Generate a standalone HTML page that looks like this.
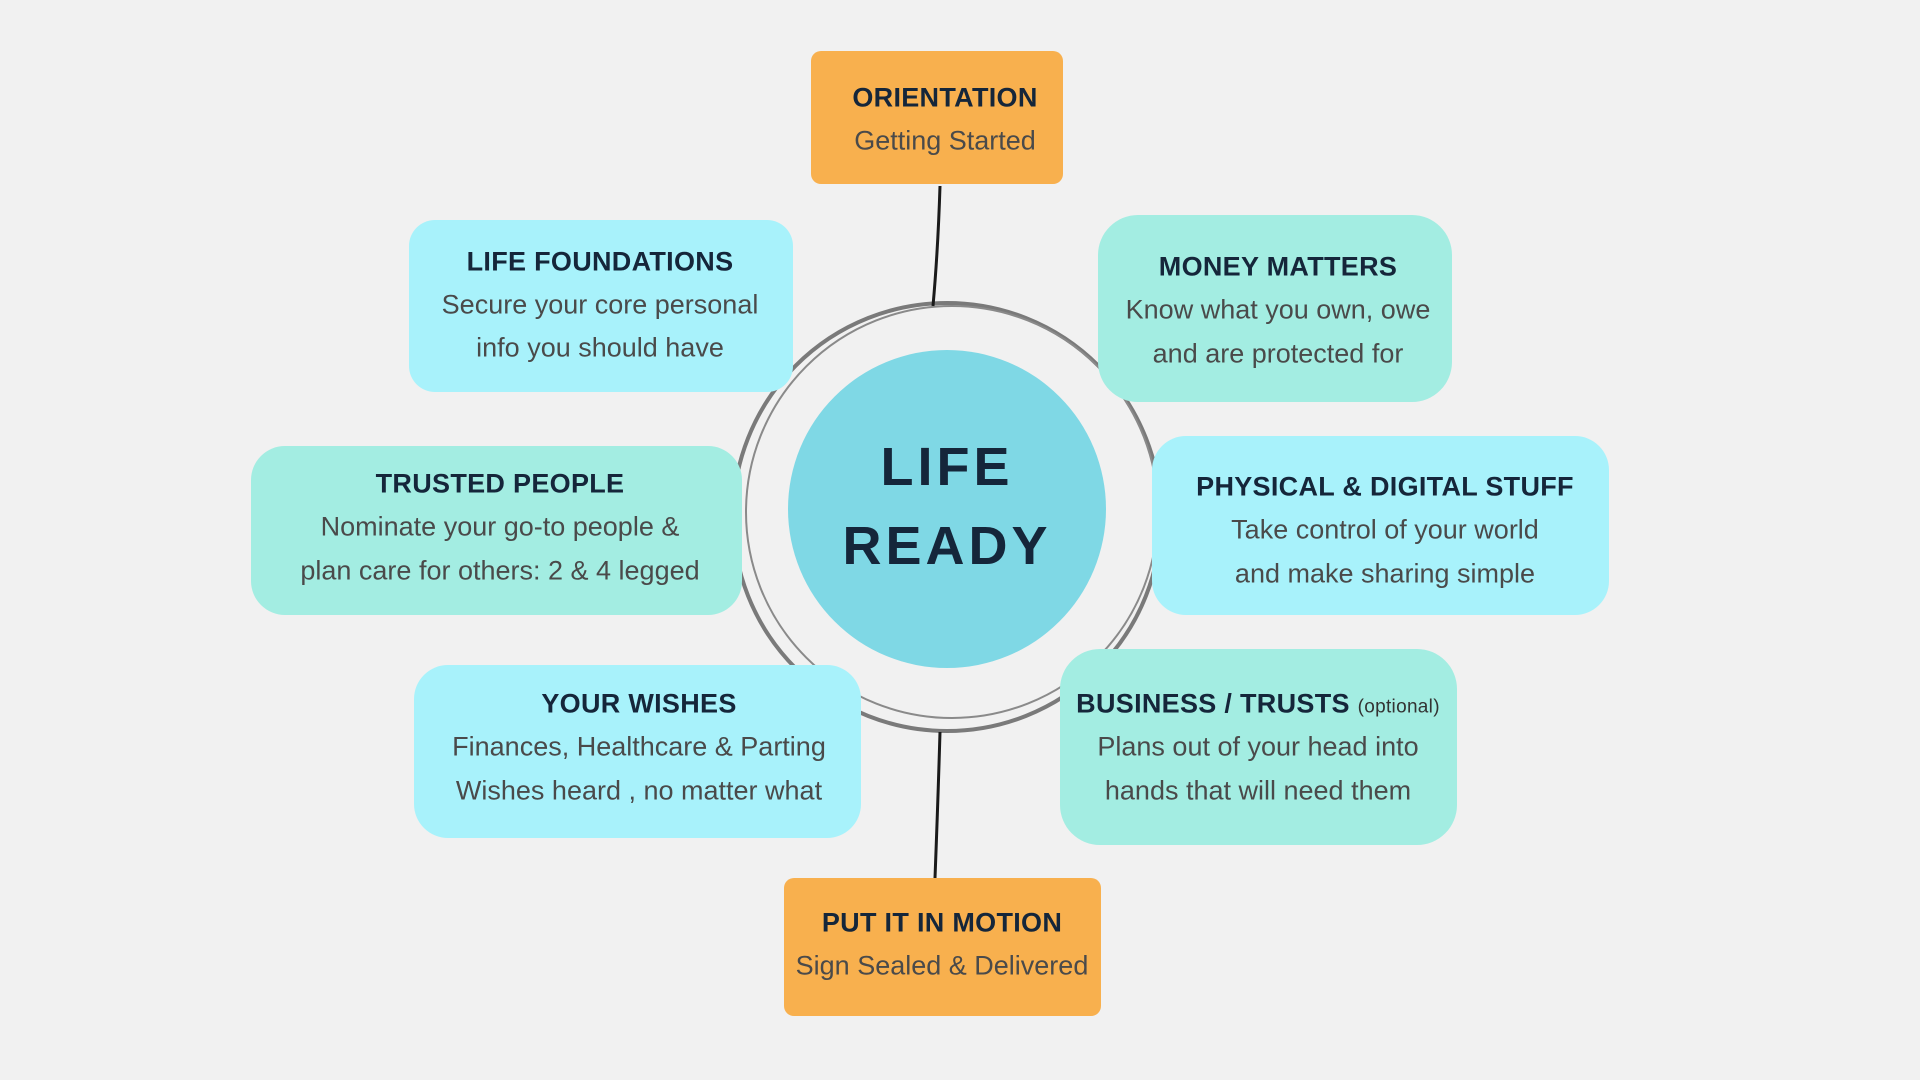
<!DOCTYPE html>
<html><head><meta charset="utf-8"><style>
body{margin:0;width:1920px;height:1080px;background:#f1f1f1;position:relative;overflow:hidden;font-family:"Liberation Sans",sans-serif}
.b{position:absolute;border-radius:26px}
.o{background:#f8b04e;border-radius:10px}
.c{background:#a8f2fb}
.m{background:#a3ede2}
.t{position:absolute;transform:translate(-50%,-50%);white-space:nowrap;text-align:center}
.h{font-weight:bold;color:#15263a;font-size:27px;letter-spacing:0.3px}
.s{color:#4a4a4a;font-size:27px}
.ctr{font-weight:bold;color:#15263a;font-size:54px;letter-spacing:4px}
</style></head><body>
<svg width="1920" height="1080" style="position:absolute;left:0;top:0">
<circle cx="947" cy="517" r="214" fill="none" stroke="#7a7a7a" stroke-width="4"/>
<circle cx="952" cy="512" r="206" fill="none" stroke="#8a8a8a" stroke-width="2"/>
<circle cx="947" cy="509" r="159" fill="#7fd8e5"/>
<path d="M940 186 Q938 250 933 306" stroke="#1a1a1a" stroke-width="3" fill="none"/>
<path d="M940 732 Q938 800 935 878" stroke="#1a1a1a" stroke-width="3" fill="none"/>
</svg>
<div class="b o" style="left:811px;top:51px;width:252px;height:133px"></div>
<div class="b c" style="left:409px;top:220px;width:384px;height:172px"></div>
<div class="b m" style="left:1098px;top:215px;width:354px;height:187px;border-radius:40px"></div>
<div class="b m" style="left:251px;top:446px;width:491px;height:169px;border-radius:34px"></div>
<div class="b c" style="left:1152px;top:436px;width:457px;height:179px;border-radius:34px"></div>
<div class="b c" style="left:414px;top:665px;width:447px;height:173px;border-radius:34px"></div>
<div class="b m" style="left:1060px;top:649px;width:397px;height:196px;border-radius:40px"></div>
<div class="b o" style="left:784px;top:878px;width:317px;height:138px"></div>

<div class="t h" style="left:945px;top:98px">ORIENTATION</div>
<div class="t s" style="left:945px;top:141px">Getting Started</div>
<div class="t h" style="left:600px;top:262px">LIFE FOUNDATIONS</div>
<div class="t s" style="left:600px;top:305px">Secure your core personal</div>
<div class="t s" style="left:600px;top:348px">info you should have</div>
<div class="t h" style="left:1278px;top:267px">MONEY MATTERS</div>
<div class="t s" style="left:1278px;top:310px">Know what you own, owe</div>
<div class="t s" style="left:1278px;top:354px">and are protected for</div>
<div class="t h" style="left:500px;top:484px">TRUSTED PEOPLE</div>
<div class="t s" style="left:500px;top:527px">Nominate your go-to people &amp;</div>
<div class="t s" style="left:500px;top:571px">plan care for others: 2 &amp; 4 legged</div>
<div class="t h" style="left:1385px;top:487px">PHYSICAL &amp; DIGITAL STUFF</div>
<div class="t s" style="left:1385px;top:530px">Take control of your world</div>
<div class="t s" style="left:1385px;top:574px">and make sharing simple</div>
<div class="t h" style="left:639px;top:704px">YOUR WISHES</div>
<div class="t s" style="left:639px;top:747px">Finances, Healthcare &amp; Parting</div>
<div class="t s" style="left:639px;top:791px">Wishes heard , no matter what</div>
<div class="t h" style="left:1258px;top:704px">BUSINESS / TRUSTS <span style="font-weight:normal;font-size:19px;color:#333">(optional)</span></div>
<div class="t s" style="left:1258px;top:747px">Plans out of your head into</div>
<div class="t s" style="left:1258px;top:791px">hands that will need them</div>
<div class="t h" style="left:942px;top:923px">PUT IT IN MOTION</div>
<div class="t s" style="left:942px;top:966px">Sign Sealed &amp; Delivered</div>
<div class="t ctr" style="left:947px;top:467px">LIFE</div>
<div class="t ctr" style="left:947px;top:546px">READY</div>
</body></html>
